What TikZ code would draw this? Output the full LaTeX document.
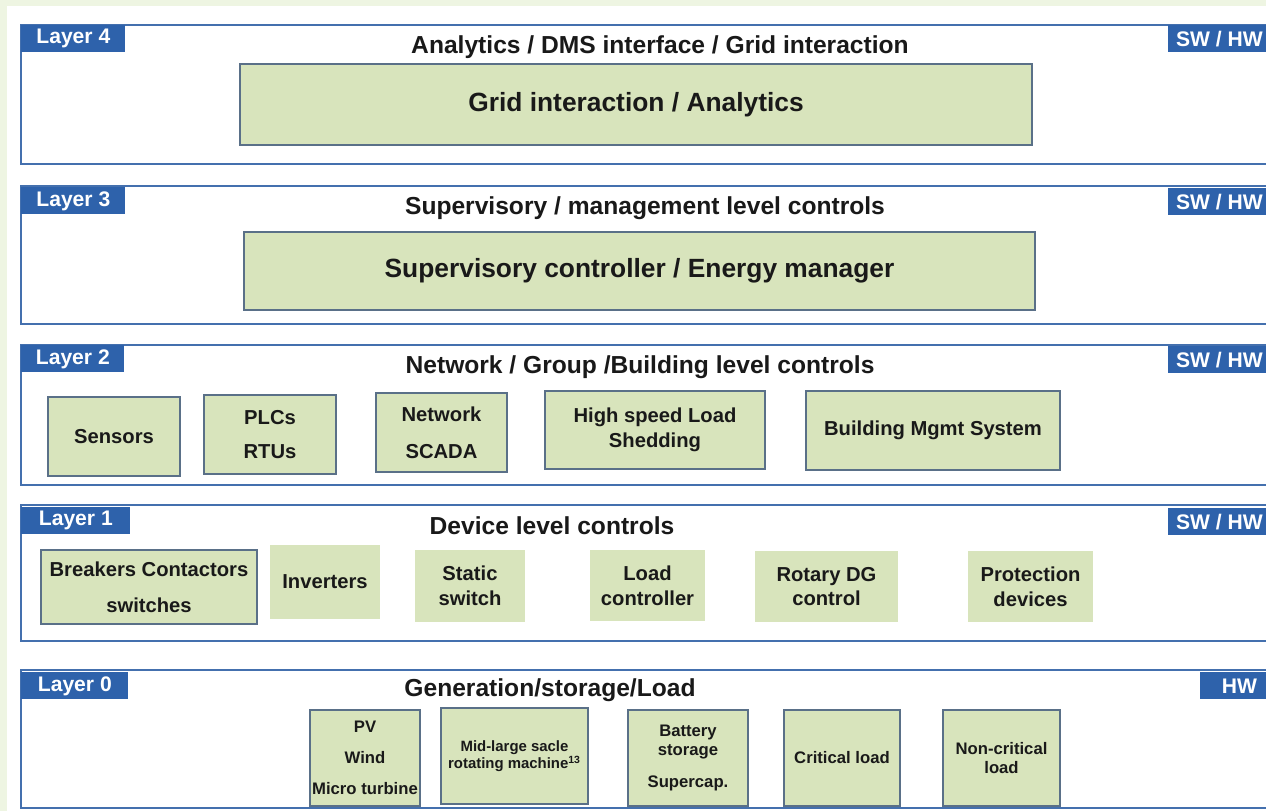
\documentclass[tikz,border=0pt]{standalone}
\usepackage{fontspec}
\setmainfont{Liberation Sans}
\usepackage{xcolor}
\usepackage{tikz}
\usetikzlibrary{positioning}
\definecolor{layerblue}{HTML}{4470AE}
\definecolor{tagblue}{HTML}{2E62AB}
\definecolor{boxgreen}{HTML}{D8E4BC}
\definecolor{boxedge}{HTML}{5A7088}
\definecolor{pagegreen}{HTML}{EEF5E2}
\begin{document}
\begin{tikzpicture}[x=0.02cm,y=-0.02cm,
		layer/.style={draw=layerblue,line width=1.3pt,fill=white},
		tag/.style={fill=tagblue,text=white,font=\bfseries\fontsize{12}{14}\selectfont,inner sep=0pt,minimum height=0.54cm,anchor=north west},
		title/.style={font=\bfseries\fontsize{14}{16}\selectfont,text=black!90},
		bigbox/.style={draw=boxedge,line width=0.9pt,fill=boxgreen,text=black!90,font=\bfseries\fontsize{15}{18}\selectfont,inner sep=0pt},
		gbox/.style={draw=boxedge,line width=0.9pt,fill=boxgreen,text=black!90,font=\bfseries\fontsize{11.5}{14}\selectfont,align=center,inner sep=0pt},
		pbox/.style={fill=boxgreen,text=black!90,font=\bfseries\fontsize{11.5}{14}\selectfont,align=center,inner sep=0pt},
		sbox/.style={draw=boxedge,line width=0.9pt,fill=boxgreen,text=black!90,font=\bfseries\fontsize{9.5}{11}\selectfont,align=center,inner sep=0pt,minimum height=1.92cm}]
	\useasboundingbox (0,0) rectangle (1266,811);
	\fill[pagegreen] (0,0) rectangle (1266,811);
	\fill[white] (7,6) rectangle (1266,811);
	\clip (0,0) rectangle (1266,811);
	\draw[layer] (21,25) rectangle (1290,164);
	\draw[layer] (21,186) rectangle (1290,324);
	\draw[layer] (21,345) rectangle (1290,485);
	\draw[layer] (21,505) rectangle (1290,641);
	\draw[layer] (21,670) rectangle (1290,808);
	\node[tag,minimum width=2.08cm] (lab4) at (21,25) {Layer 4};
	\node[tag,minimum width=2.08cm] (lab3) at (21,187) {Layer 3};
	\node[tag,minimum width=2.06cm] (lab2) at (21,345) {Layer 2};
	\node[tag,minimum width=2.18cm] (lab1) at (21,507) {Layer 1};
	\node[tag,minimum width=2.14cm] (lab0) at (21,672) {Layer 0};
	\node[tag,minimum width=2.04cm] (sw4) at (1168,25) {SW / HW};
	\node[tag,minimum width=2.04cm] (sw3) at (1168,188) {SW / HW};
	\node[tag,minimum width=2.04cm] (sw2) at (1168,346) {SW / HW};
	\node[tag,minimum width=2.04cm] (sw1) at (1168,508) {SW / HW};
	\node[tag,minimum width=1.56cm] (hw0) at (1200,672) {HW};
	\node[title] (t4) at (660,47) {Analytics / DMS interface / Grid interaction};
	\node[title] (t3) at (645,208) {Supervisory / management level controls};
	\node[title] (t2) at (640,367) {Network / Group /Building level controls};
	\node[title] (t1) at (552,526) {Device level controls};
	\node[title] (t0) at (550,690) {Generation/storage/Load};
	\node[bigbox,minimum width=15.84cm,minimum height=1.62cm] (grid) at (636,104.5) {Grid interaction / Analytics};
	\node[bigbox,minimum width=15.82cm,minimum height=1.56cm] (sup) at (639.5,271) {Supervisory controller / Energy manager};
	\node[gbox,minimum width=2.64cm,minimum height=1.58cm] (sens) at (114,436.5) {Sensors};
	\node[gbox,minimum width=2.64cm,minimum height=1.58cm] (plc) at (270,434.5) {PLCs\\[5pt]RTUs};
	\node[gbox,minimum width=2.62cm,minimum height=1.58cm] (scada) at (441.5,432.5) {Network\\[7pt]SCADA};
	\node[gbox,minimum width=4.4cm,minimum height=1.56cm] (shed) at (655,430) {High speed Load\\Shedding};
	\node[gbox,minimum width=5.08cm,minimum height=1.58cm] (bms) at (933,430.5) {Building Mgmt System};
	\node[gbox,minimum width=4.32cm,minimum height=1.48cm] (brk) at (149,587) {Breakers Contactors\\[6.5pt]switches};
	\node[pbox,minimum width=2.2cm,minimum height=1.48cm] (inv) at (325,582) {Inverters};
	\node[pbox,minimum width=2.2cm,minimum height=1.44cm] (stat) at (470,586) {Static\\switch};
	\node[pbox,minimum width=2.3cm,minimum height=1.42cm] (lctl) at (647.5,585.5) {Load\\controller};
	\node[pbox,minimum width=2.86cm,minimum height=1.42cm] (rdg) at (826.5,586.5) {Rotary DG\\control};
	\node[pbox,minimum width=2.5cm,minimum height=1.42cm] (prot) at (1030.5,586.5) {Protection\\devices};
	\node[sbox,minimum width=2.2cm] (pv) at (365,758) {PV\\[6.5pt]Wind\\[6.5pt]Micro turbine};
	\node[sbox,minimum width=2.94cm,font=\bfseries\fontsize{8.5}{9.5}\selectfont] (rot) at (514.5,756) {Mid-large sacle\\rotating machine\textsuperscript{13}};
	\node[sbox,minimum width=2.4cm] (bat) at (688,758) {Battery\\storage\\[7.5pt]Supercap.};
	\node[sbox,minimum width=2.32cm] (crit) at (842,758) {Critical load};
	\node[sbox,minimum width=2.34cm] (ncrit) at (1001.5,758) {Non-critical\\load};
\end{tikzpicture}
\end{document}
